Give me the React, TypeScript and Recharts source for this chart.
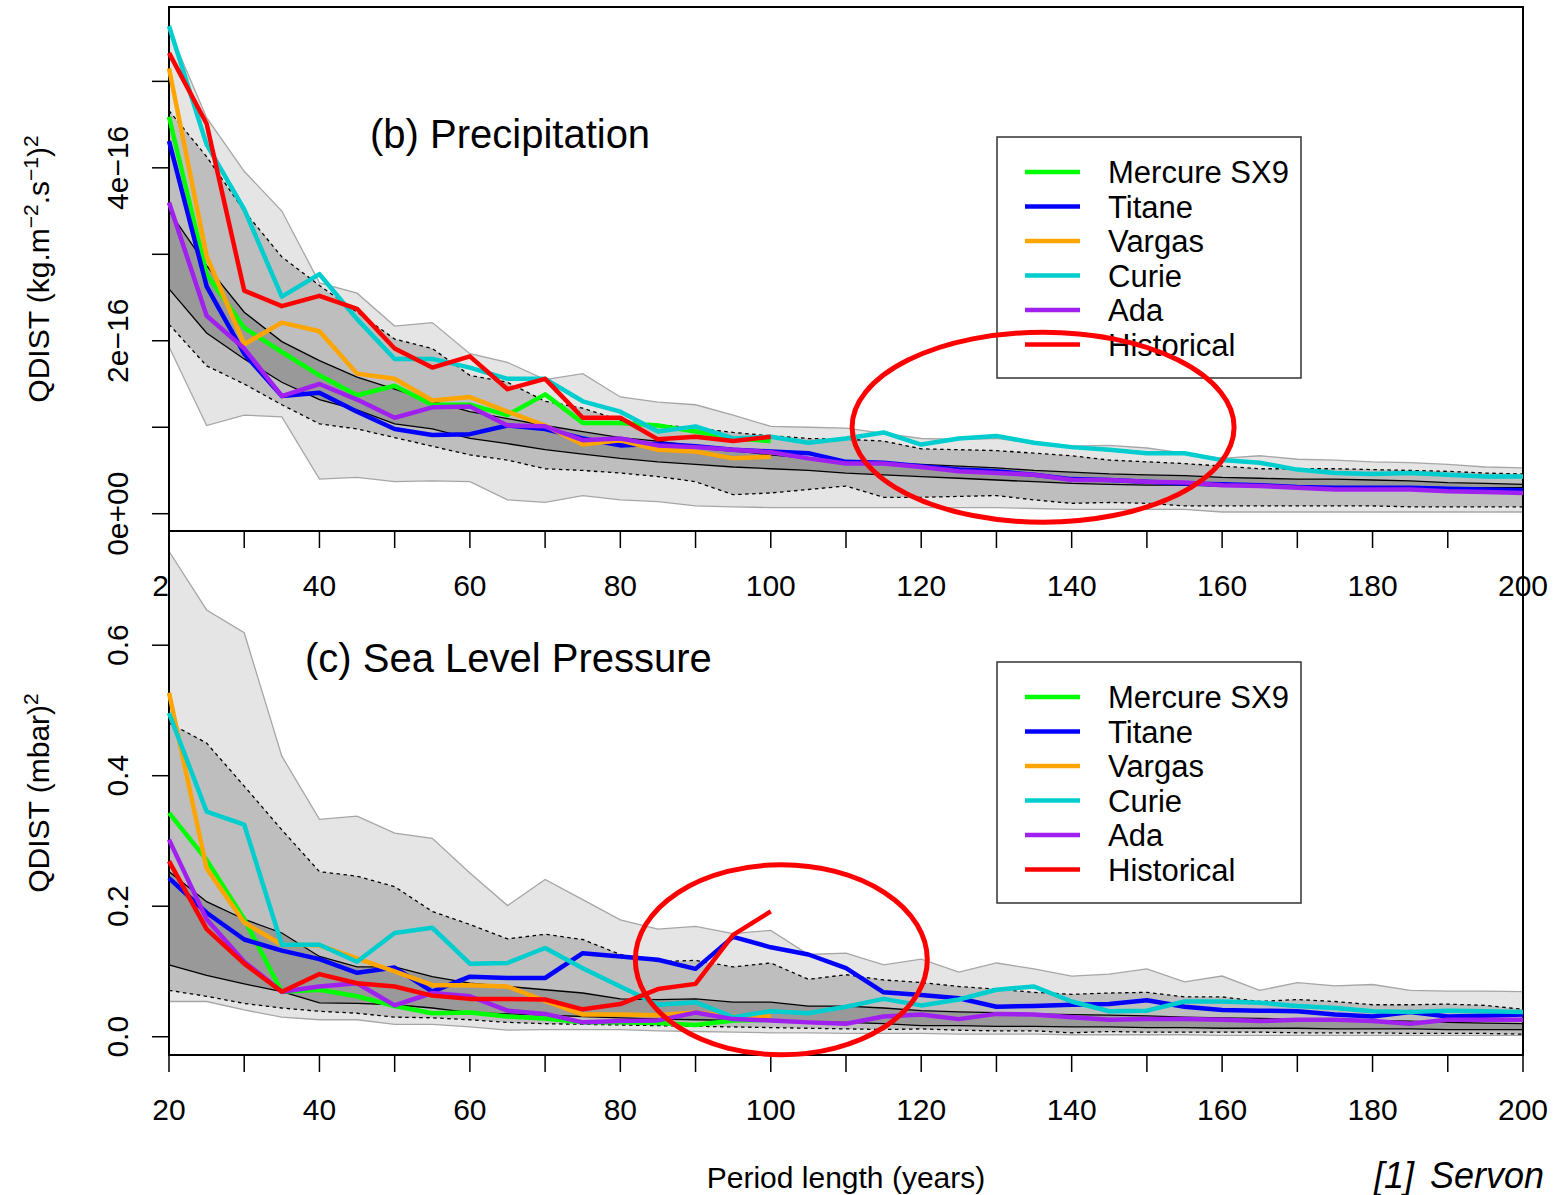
import React from 'react';
import { ComposedChart, Area, Line, XAxis, YAxis, ReferenceArea, ReferenceDot } from 'recharts';

const FONT = '"Liberation Sans", Arial, Helvetica, sans-serif';

// period lengths (years)
const years = [20, 25, 30, 35, 40, 45, 50, 55, 60, 65, 70, 75, 80, 85, 90, 95, 100, 105, 110, 115, 120, 125, 130, 135, 140, 145, 150, 155, 160, 165, 170, 175, 180, 185, 190, 195, 200];
const xTicks = [20, 30, 40, 50, 60, 70, 80, 90, 100, 110, 120, 130, 140, 150, 160, 170, 180, 190, 200];

const modelNames = ['Mercure SX9', 'Titane', 'Vargas', 'Curie', 'Ada', 'Historical'];
const modelKeys = ['mercure', 'titane', 'vargas', 'curie', 'ada', 'historical'];
const modelColors = ['#00ff00', '#0000ff', '#ffa500', '#00cdcd', '#a020f0', '#ff0000'];

// (b) Precipitation, in units of 1e-16 (kg.m-2.s-1)^2
const precipOuterHi = [5.6, 4.58, 3.96, 3.5, 2.67, 2.55, 2.17, 2.21, 1.85, 1.75, 1.55, 1.62, 1.35, 1.29, 1.26, 1.14, 1.01, 1.0, 0.99, 0.93, 0.87, 0.86, 0.87, 0.81, 0.78, 0.79, 0.76, 0.7, 0.64, 0.67, 0.63, 0.62, 0.6, 0.59, 0.57, 0.54, 0.53];
const precipDotHi = [4.66, 4.13, 3.5, 2.97, 2.64, 2.33, 2.02, 1.91, 1.6, 1.52, 1.3, 1.22, 1.08, 1.03, 0.99, 0.94, 0.9, 0.87, 0.86, 0.84, 0.75, 0.74, 0.73, 0.7, 0.67, 0.62, 0.6, 0.58, 0.55, 0.52, 0.52, 0.52, 0.51, 0.5, 0.49, 0.47, 0.46];
const precipMidHi = [3.5, 2.87, 2.33, 1.99, 1.77, 1.58, 1.44, 1.3, 1.18, 1.1, 1.02, 0.95, 0.88, 0.84, 0.78, 0.73, 0.68, 0.64, 0.6, 0.58, 0.57, 0.55, 0.53, 0.5, 0.48, 0.46, 0.45, 0.44, 0.42, 0.41, 0.4, 0.4, 0.39, 0.38, 0.36, 0.35, 0.34];
const precipMidLo = [2.6, 2.09, 1.79, 1.52, 1.32, 1.2, 1.04, 0.98, 0.87, 0.81, 0.74, 0.69, 0.64, 0.6, 0.57, 0.54, 0.52, 0.5, 0.47, 0.45, 0.43, 0.41, 0.39, 0.37, 0.35, 0.34, 0.33, 0.33, 0.32, 0.32, 0.31, 0.31, 0.31, 0.31, 0.3, 0.3, 0.3];
const precipDotLo = [2.19, 1.71, 1.5, 1.26, 1.04, 0.98, 0.88, 0.78, 0.68, 0.62, 0.52, 0.5, 0.47, 0.43, 0.37, 0.22, 0.24, 0.28, 0.32, 0.19, 0.19, 0.2, 0.21, 0.16, 0.12, 0.13, 0.12, 0.09, 0.09, 0.09, 0.09, 0.09, 0.09, 0.08, 0.08, 0.08, 0.08];
const precipOuterLo = [1.93, 1.02, 1.14, 1.12, 0.4, 0.42, 0.37, 0.38, 0.37, 0.16, 0.13, 0.21, 0.16, 0.14, 0.09, 0.08, 0.07, 0.07, 0.07, 0.07, 0.07, 0.07, 0.07, 0.06, 0.05, 0.05, 0.05, 0.05, 0.02, 0.02, 0.02, 0.02, 0.02, 0.02, 0.02, 0.02, 0.02];

const precipMercure = [4.59, 2.77, 2.15, 1.87, 1.6, 1.37, 1.48, 1.26, 1.26, 1.14, 1.38, 1.05, 1.05, 1.02, 0.95, 0.87, 0.84];
const precipTitane = [4.31, 2.63, 1.85, 1.36, 1.4, 1.18, 0.98, 0.91, 0.92, 1.02, 0.98, 0.87, 0.79, 0.81, 0.78, 0.74, 0.72, 0.7, 0.6, 0.59, 0.55, 0.51, 0.49, 0.45, 0.4, 0.39, 0.37, 0.35, 0.34, 0.33, 0.31, 0.3, 0.3, 0.3, 0.29, 0.28, 0.27];
const precipVargas = [5.15, 2.98, 1.96, 2.21, 2.11, 1.62, 1.56, 1.31, 1.35, 1.18, 1.02, 0.8, 0.85, 0.74, 0.72, 0.64, 0.66];
const precipCurie = [5.64, 4.27, 3.52, 2.51, 2.77, 2.25, 1.79, 1.79, 1.69, 1.56, 1.56, 1.3, 1.18, 0.95, 1.01, 0.87, 0.89, 0.82, 0.87, 0.94, 0.8, 0.87, 0.9, 0.82, 0.77, 0.74, 0.7, 0.7, 0.62, 0.59, 0.51, 0.47, 0.46, 0.47, 0.45, 0.43, 0.43];
const precipAda = [3.6, 2.29, 1.91, 1.36, 1.5, 1.32, 1.11, 1.23, 1.24, 1.02, 1.01, 0.85, 0.87, 0.79, 0.77, 0.74, 0.71, 0.64, 0.58, 0.58, 0.54, 0.49, 0.47, 0.45, 0.39, 0.39, 0.37, 0.36, 0.33, 0.32, 0.3, 0.28, 0.28, 0.28, 0.26, 0.25, 0.24];
const precipHistorical = [5.33, 4.51, 2.58, 2.4, 2.52, 2.37, 1.91, 1.69, 1.82, 1.44, 1.56, 1.11, 1.11, 0.86, 0.89, 0.84, 0.89];

const precipTicks = [0, 1, 2, 3, 4, 5];
const precipTickLabels = ['0e+00', '', '2e\u221216', '', '4e\u221216', ''];

// (c) Sea Level Pressure, (mbar)^2
const slpOuterHi = [0.744, 0.654, 0.619, 0.43, 0.333, 0.338, 0.312, 0.304, 0.251, 0.201, 0.241, 0.21, 0.179, 0.165, 0.169, 0.158, 0.163, 0.126, 0.128, 0.11, 0.119, 0.099, 0.113, 0.104, 0.093, 0.096, 0.104, 0.084, 0.093, 0.071, 0.083, 0.078, 0.08, 0.071, 0.07, 0.07, 0.069];
const slpDotHi = [0.481, 0.45, 0.384, 0.317, 0.253, 0.246, 0.23, 0.192, 0.172, 0.15, 0.157, 0.149, 0.126, 0.115, 0.117, 0.107, 0.113, 0.088, 0.095, 0.087, 0.083, 0.077, 0.073, 0.068, 0.065, 0.067, 0.068, 0.061, 0.061, 0.054, 0.057, 0.054, 0.049, 0.049, 0.05, 0.048, 0.042];
const slpMidHi = [0.253, 0.207, 0.18, 0.159, 0.123, 0.107, 0.107, 0.092, 0.082, 0.077, 0.072, 0.067, 0.058, 0.057, 0.058, 0.053, 0.053, 0.047, 0.047, 0.044, 0.04, 0.038, 0.037, 0.035, 0.034, 0.033, 0.032, 0.03, 0.029, 0.028, 0.027, 0.026, 0.025, 0.024, 0.022, 0.021, 0.02];
const slpMidLo = [0.11, 0.094, 0.081, 0.069, 0.052, 0.051, 0.049, 0.044, 0.037, 0.035, 0.033, 0.031, 0.029, 0.027, 0.026, 0.025, 0.024, 0.023, 0.022, 0.02, 0.017, 0.017, 0.016, 0.016, 0.015, 0.015, 0.014, 0.014, 0.013, 0.013, 0.013, 0.012, 0.012, 0.012, 0.011, 0.011, 0.011];
const slpDotLo = [0.071, 0.062, 0.051, 0.044, 0.039, 0.036, 0.03, 0.029, 0.026, 0.022, 0.02, 0.019, 0.018, 0.017, 0.016, 0.015, 0.014, 0.013, 0.012, 0.011, 0.012, 0.01, 0.009, 0.009, 0.006, 0.008, 0.007, 0.007, 0.007, 0.007, 0.006, 0.006, 0.006, 0.005, 0.005, 0.005, 0.004];
const slpOuterLo = [0.054, 0.054, 0.041, 0.03, 0.026, 0.026, 0.019, 0.019, 0.015, 0.01, 0.011, 0.011, 0.011, 0.009, 0.008, 0.007, 0.006, 0.006, 0.005, 0.005, 0.005, 0.004, 0.004, 0.004, 0.003, 0.003, 0.003, 0.003, 0.002, 0.002, 0.002, 0.002, 0.002, 0.002, 0.002, 0.002, 0.002];

const slpMercure = [0.343, 0.271, 0.18, 0.069, 0.072, 0.062, 0.047, 0.036, 0.037, 0.031, 0.028, 0.022, 0.022, 0.021, 0.018, 0.025, 0.026];
const slpTitane = [0.243, 0.19, 0.149, 0.132, 0.119, 0.098, 0.106, 0.069, 0.092, 0.09, 0.09, 0.128, 0.123, 0.118, 0.104, 0.153, 0.137, 0.126, 0.105, 0.068, 0.064, 0.059, 0.046, 0.047, 0.049, 0.05, 0.056, 0.046, 0.041, 0.04, 0.039, 0.034, 0.031, 0.038, 0.031, 0.032, 0.034];
const slpVargas = [0.527, 0.258, 0.175, 0.141, 0.14, 0.12, 0.1, 0.079, 0.079, 0.077, 0.055, 0.034, 0.034, 0.033, 0.037, 0.031, 0.031];
const slpCurie = [0.496, 0.345, 0.325, 0.141, 0.141, 0.115, 0.159, 0.167, 0.112, 0.113, 0.136, 0.105, 0.077, 0.049, 0.053, 0.03, 0.039, 0.036, 0.046, 0.058, 0.048, 0.057, 0.072, 0.077, 0.054, 0.039, 0.04, 0.054, 0.054, 0.052, 0.047, 0.044, 0.039, 0.038, 0.04, 0.039, 0.038];
const slpAda = [0.302, 0.18, 0.115, 0.069, 0.077, 0.082, 0.048, 0.067, 0.062, 0.04, 0.035, 0.022, 0.024, 0.025, 0.037, 0.027, 0.025, 0.022, 0.02, 0.031, 0.034, 0.027, 0.035, 0.034, 0.03, 0.026, 0.027, 0.027, 0.026, 0.024, 0.026, 0.026, 0.024, 0.02, 0.026, 0.026, 0.026];
const slpHistorical = [0.269, 0.165, 0.112, 0.069, 0.096, 0.082, 0.077, 0.063, 0.058, 0.058, 0.057, 0.042, 0.05, 0.073, 0.081, 0.156, 0.192];

const slpTicks = [0, 0.2, 0.4, 0.6];
const slpTickLabels = ['0.0', '0.2', '0.4', '0.6'];

function buildRows(bands: number[][], models: number[][]) {
  const [outerLo, dotLo, midLo, midHi, dotHi, outerHi] = bands;
  return years.map((year, i) => {
    const row: any = {
      year,
      outer: [outerLo[i], outerHi[i]],
      dots: [dotLo[i], dotHi[i]],
      mid: [midLo[i], midHi[i]],
    };
    modelKeys.forEach((k, j) => {
      row[k] = models[j][i];
    });
    return row;
  });
}

const precipRows = buildRows(
  [precipOuterLo, precipDotLo, precipMidLo, precipMidHi, precipDotHi, precipOuterHi],
  [precipMercure, precipTitane, precipVargas, precipCurie, precipAda, precipHistorical]
);
const slpRows = buildRows(
  [slpOuterLo, slpDotLo, slpMidLo, slpMidHi, slpDotHi, slpOuterHi],
  [slpMercure, slpTitane, slpVargas, slpCurie, slpAda, slpHistorical]
);

const XTick = (props: any) => {
  const { x, y, payload } = props;
  if (payload.value % 20 !== 0) return <g />;
  return (
    <text x={x} y={y + 48} textAnchor="middle" fontSize={30} fontFamily={FONT} fill="#000">
      {payload.value}
    </text>
  );
};

const makeYTick = (ticks: number[], labels: string[]) => (props: any) => {
  const { x, y, payload } = props;
  const label = labels[ticks.indexOf(payload.value)];
  if (!label) return <g />;
  return (
    <text transform={`translate(${x - 24},${y}) rotate(-90)`} textAnchor="middle" fontSize={30} fontFamily={FONT} fill="#000">
      {label}
    </text>
  );
};

function PanelLegend({ left, top }: { left: number; top: number }) {
  return (
    <g>
      <rect x={left} y={top} width={304} height={241} fill="#fff" stroke="#333" strokeWidth={1.5} />
      {modelNames.map((name, i) => {
        const rowY = top + 35 + i * 34.5;
        return (
          <g key={name}>
            <line x1={left + 28} x2={left + 83} y1={rowY} y2={rowY} stroke={modelColors[i]} strokeWidth={4.5} />
            <text x={left + 111} y={rowY + 11} fontSize={31} fontFamily={FONT} fill="#000">
              {name}
            </text>
          </g>
        );
      })}
    </g>
  );
}

interface PanelProps {
  rows: any[];
  height: number;
  marginTop: number;
  xAxisHeight: number;
  yDomain: [number, number];
  yTicks: number[];
  yTickLabels: string[];
  yTitle: React.ReactNode;
  title: string;
  titleX: number;
  titleY: number;
  legendTop: number;
  ellipse: { x: number; y: number; rx: number; ry: number };
  xTitle?: boolean;
}

function Panel(p: PanelProps) {
  return (
    <ComposedChart
      width={1560}
      height={p.height}
      data={p.rows}
      margin={{ top: p.marginTop, right: 37, bottom: 0, left: 0 }}
    >
      <XAxis
        dataKey="year"
        type="number"
        domain={[20, 200]}
        ticks={xTicks}
        interval={0}
        height={p.xAxisHeight}
        axisLine={false}
        tickLine={{ stroke: '#000', strokeWidth: 1.5 }}
        tickSize={17}
        tickMargin={0}
        tick={<XTick />}
        label={
          p.xTitle
            ? {
                content: (lp: any) => {
                  const vb = lp.viewBox;
                  return (
                    <text x={vb.x + vb.width / 2} y={vb.y + 133} textAnchor="middle" fontSize={30} fontFamily={FONT} fill="#000">
                      Period length (years)
                    </text>
                  );
                },
              }
            : undefined
        }
      />
      <YAxis
        type="number"
        domain={p.yDomain}
        ticks={p.yTicks}
        interval={0}
        width={169}
        axisLine={false}
        tickLine={{ stroke: '#000', strokeWidth: 1.5 }}
        tickSize={17}
        tickMargin={0}
        tick={makeYTick(p.yTicks, p.yTickLabels)}
        label={{
          content: (lp: any) => {
            const vb = lp.viewBox;
            return (
              <text transform={`translate(49,${vb.y + vb.height / 2}) rotate(-90)`} textAnchor="middle" fontSize={30} fontFamily={FONT} fill="#000">
                {p.yTitle}
              </text>
            );
          },
        }}
      />
      <Area dataKey="outer" type="linear" fill="#e5e5e5" fillOpacity={1} stroke="#a6a6a6" strokeWidth={1.3} isAnimationActive={false} />
      <Area dataKey="dots" type="linear" fill="#bebebe" fillOpacity={1} stroke="#000" strokeWidth={1.3} strokeDasharray="3.5 3.5" isAnimationActive={false} />
      <Area dataKey="mid" type="linear" fill="#999999" fillOpacity={1} stroke="#000" strokeWidth={1.3} isAnimationActive={false} />
      {modelKeys.map((k, i) => (
        <Line
          key={k}
          dataKey={k}
          name={modelNames[i]}
          type="linear"
          stroke={modelColors[i]}
          strokeWidth={4.5}
          strokeLinejoin="round"
          dot={false}
          isAnimationActive={false}
        />
      ))}
      <ReferenceArea x1={20} x2={200} y1={p.yDomain[0]} y2={p.yDomain[1]} fill="none" stroke="#000" strokeWidth={2} ifOverflow="visible" />
      <text x={p.titleX} y={p.titleY} fontSize={40} fontFamily={FONT} fill="#000">
        {p.title}
      </text>
      <PanelLegend left={997} top={p.legendTop} />
      <ReferenceDot
        x={p.ellipse.x}
        y={p.ellipse.y}
        r={0}
        ifOverflow="visible"
        shape={(sp: any) => (
          <ellipse cx={sp.cx} cy={sp.cy} rx={p.ellipse.rx} ry={p.ellipse.ry} fill="none" stroke="#ff0000" strokeWidth={5} />
        )}
      />
    </ComposedChart>
  );
}

const precipYTitle = (
  <>
    <tspan>QDIST (kg.m</tspan>
    <tspan fontSize={21} dy={-11}>{'\u22122'}</tspan>
    <tspan dy={11}>.s</tspan>
    <tspan fontSize={21} dy={-11}>{'\u22121'}</tspan>
    <tspan dy={11}>)</tspan>
    <tspan fontSize={21} dy={-11}>2</tspan>
  </>
);

const slpYTitle = (
  <>
    <tspan>QDIST (mbar)</tspan>
    <tspan fontSize={21} dy={-11}>2</tspan>
  </>
);

export default function App() {
  return (
    <div style={{ position: 'absolute', left: 0, top: 0, width: 1560, height: 1195, overflow: 'hidden', background: '#fff', fontFamily: FONT }}>
      <div style={{ position: 'absolute', left: 0, top: 0 }}>
        <Panel
          rows={precipRows}
          height={620}
          marginTop={7}
          xAxisHeight={89}
          yDomain={[-0.2, 5.86]}
          yTicks={precipTicks}
          yTickLabels={precipTickLabels}
          yTitle={precipYTitle}
          title="(b) Precipitation"
          titleX={370}
          titleY={148}
          legendTop={137}
          ellipse={{ x: 136.2, y: 1.0, rx: 191, ry: 95 }}
        />
      </div>
      <div style={{ position: 'absolute', left: 0, top: 0 }}>
        <Panel
          rows={slpRows}
          height={1195}
          marginTop={531}
          xAxisHeight={140}
          yDomain={[-0.028, 0.775]}
          yTicks={slpTicks}
          yTickLabels={slpTickLabels}
          yTitle={slpYTitle}
          title="(c) Sea Level Pressure"
          titleX={305}
          titleY={672}
          legendTop={662}
          ellipse={{ x: 101.4, y: 0.118, rx: 146, ry: 95 }}
          xTitle
        />
      </div>
      <svg width={1560} height={1195} style={{ position: 'absolute', left: 0, top: 0, pointerEvents: 'none' }}>
        <text x={1374} y={1188} fontSize={36} fontStyle="italic" fontFamily={FONT} fill="#000">
          [1]
        </text>
        <text x={1430} y={1188} fontSize={36} fontStyle="italic" fontFamily={FONT} fill="#000">
          Servon
        </text>
      </svg>
    </div>
  );
}
